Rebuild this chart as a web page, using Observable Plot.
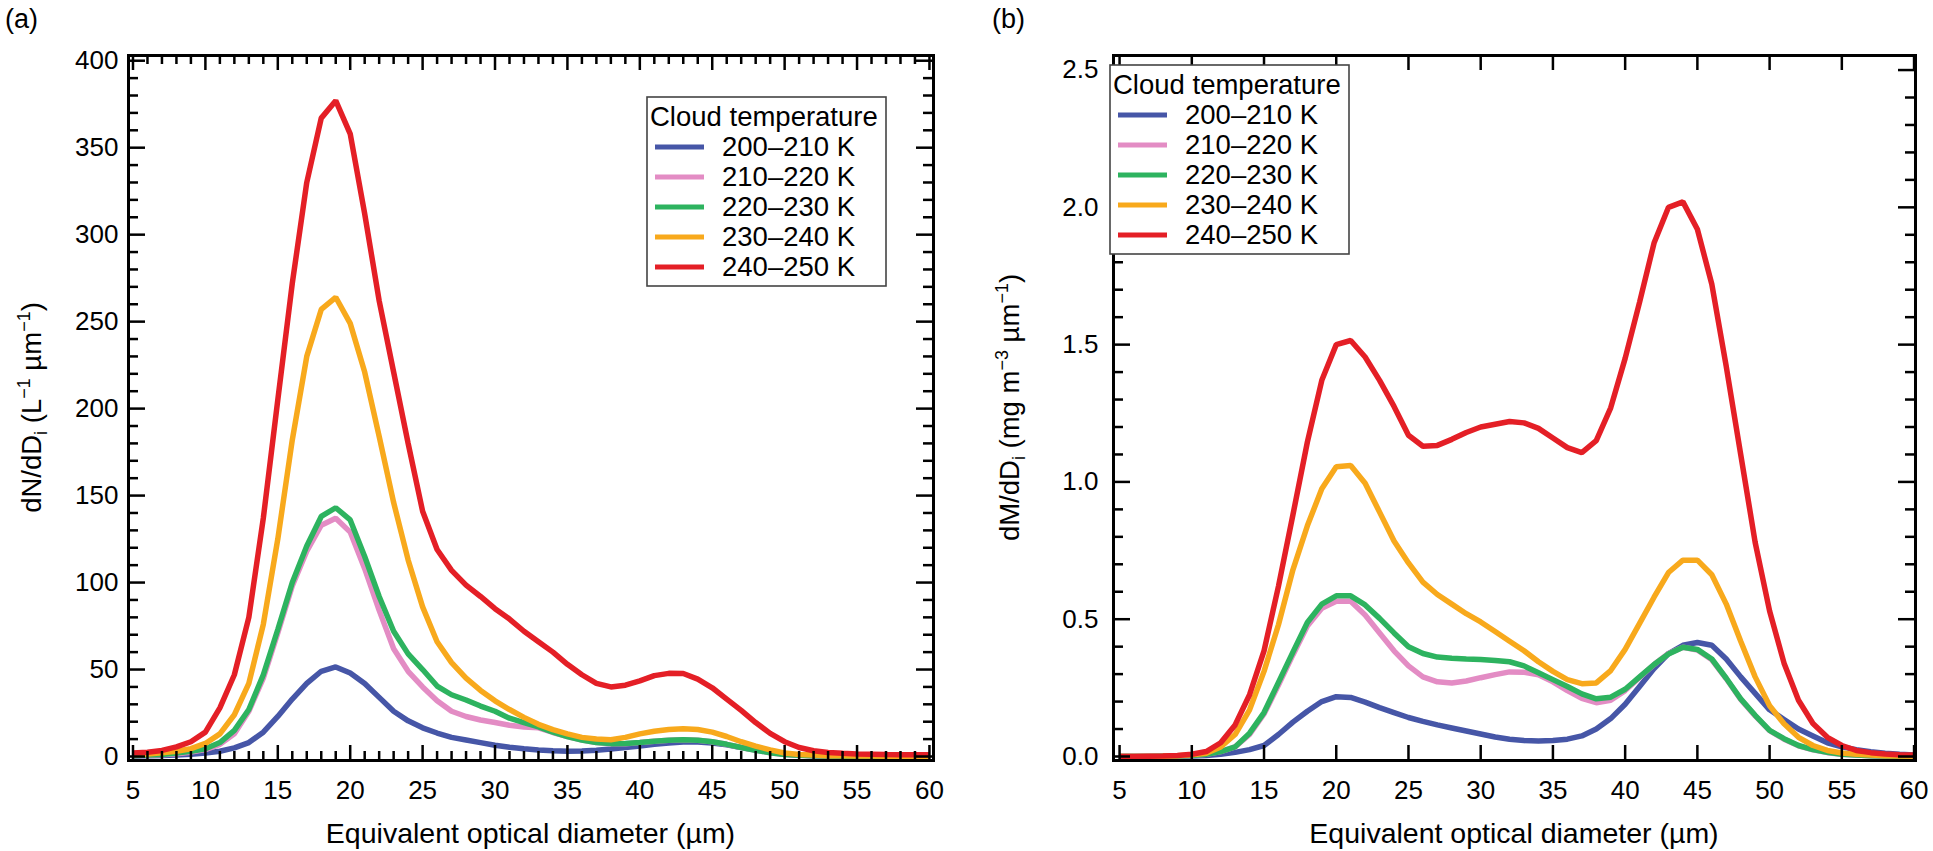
<!DOCTYPE html>
<html>
<head>
<meta charset="utf-8">
<script src="https://cdn.jsdelivr.net/npm/d3@7"></script>
<script src="https://cdn.jsdelivr.net/npm/@observablehq/plot@0.6"></script>
<style>
  body { margin: 0; background: #fff; }
  #fig { position: relative; width: 1933px; height: 851px; background: #fff; }
  #fig svg { position: absolute; top: 0; overflow: visible; }
</style>
</head>
<body>
<div id="fig"></div>
<script>
// ---------- data ----------
const diameter = [5, 6, 7, 8, 9, 10, 11, 12, 13, 14,
  15, 16, 17, 18, 19, 20, 21, 22, 23, 24,
  25, 26, 27, 28, 29, 30, 31, 32, 33, 34,
  35, 36, 37, 38, 39, 40, 41, 42, 43, 44,
  45, 46, 47, 48, 49, 50, 51, 52, 53, 54,
  55, 56, 57, 58, 59, 60];

const tempRanges = ["200–210 K", "210–220 K", "220–230 K", "230–240 K", "240–250 K"];
const tempColors = ["#4656a7", "#e38cc4", "#2db35f", "#f8a91c", "#e41f26"];

// (a) number distribution dN/dDi (L^-1 µm^-1)
const dN_200_210 = [0.3, 0.4, 0.6, 0.9, 1.3, 2, 3, 5, 8, 14,
  23, 33, 42, 49, 51.5, 48, 42, 34, 26, 20.5,
  16.5, 13.5, 11, 9.5, 8, 6.5, 5.3, 4.4, 3.8, 3.3,
  3, 3.2, 3.6, 4.3, 5.1, 6, 7, 7.8, 8.3, 8.4,
  7.8, 6.7, 5.2, 3.8, 2.4, 1.4, 0.8, 0.5, 0.3, 0.2,
  0.2, 0.1, 0.1, 0.1, 0.1, 0.1];
const dN_210_220 = [0.5, 0.7, 1, 1.6, 2.5, 4, 7, 13, 26, 45,
  71, 98, 118, 133, 137, 129, 108, 84, 62, 49,
  40, 32, 26, 23, 21, 19.5, 18, 17, 16.5, 13.8,
  11.5, 9.5, 8, 7.3, 7.3, 8, 8.8, 9.3, 9.6, 9.4,
  8.5, 7, 5.2, 3.6, 2.2, 1.2, 0.7, 0.4, 0.3, 0.2,
  0.2, 0.2, 0.1, 0.1, 0.1, 0.1];
const dN_220_230 = [0.5, 0.8, 1.2, 2, 3, 4.5, 8, 15, 27, 47,
  73, 100, 121, 138, 143, 136, 115, 92, 72, 59,
  50, 40.5, 35.5, 32.5, 29, 26, 22, 19.5, 17, 14,
  11.5, 9.5, 8, 7.4, 7.5, 8, 8.8, 9.3, 9.6, 9.4,
  8.5, 7, 5.2, 3.6, 2.2, 1.2, 0.7, 0.4, 0.3, 0.2,
  0.2, 0.2, 0.1, 0.1, 0.1, 0.1];
const dN_230_240 = [1, 1.5, 2.2, 3, 4.5, 7.5, 13, 24, 42, 76,
  125, 182, 230, 257, 264, 249, 221, 184, 146, 113,
  86, 66, 54, 45, 38, 32, 27, 22.5, 18.5, 15.5,
  13, 11, 10, 9.6, 11, 13, 14.5, 15.5, 16, 15.5,
  14, 11.5, 8.5, 6, 3.8, 2, 1.2, 0.8, 0.5, 0.4,
  0.3, 0.3, 0.2, 0.2, 0.2, 0.2];
const dN_240_250 = [2, 2.5, 3.5, 5.5, 8.5, 14, 28, 47, 80, 137,
  205, 272, 330, 367, 377, 358, 312, 262, 221, 180,
  141, 119, 107, 98.5, 92, 85, 79, 72, 66, 60,
  53, 47, 42, 40, 41, 43.5, 46.5, 47.8, 47.7, 44.5,
  39.5, 33, 26.5, 19.5, 13.3, 8.5, 5.2, 3.3, 2.3, 1.8,
  1.5, 1.3, 1.1, 1, 1, 1];

// (b) mass distribution dM/dDi (mg m^-3 µm^-1)
const dM_200_210 = [0, 0, 0, 0, 0.001, 0.002, 0.004, 0.008, 0.015, 0.025,
  0.04, 0.08, 0.125, 0.165, 0.2, 0.218, 0.215, 0.198, 0.178, 0.16,
  0.142, 0.128, 0.115, 0.104, 0.093, 0.082, 0.071, 0.063, 0.058, 0.056,
  0.058, 0.063, 0.075, 0.1, 0.138, 0.19, 0.255, 0.32, 0.375, 0.405,
  0.415, 0.405, 0.355, 0.29, 0.23, 0.17, 0.135, 0.1, 0.075, 0.05,
  0.035, 0.025, 0.017, 0.012, 0.008, 0.005];
const dM_210_220 = [0, 0, 0, 0.001, 0.002, 0.004, 0.008, 0.018, 0.035, 0.08,
  0.155, 0.26, 0.37, 0.475, 0.54, 0.565, 0.565, 0.515, 0.45, 0.385,
  0.33, 0.29, 0.272, 0.268, 0.275, 0.287, 0.298, 0.308, 0.307, 0.298,
  0.272, 0.24, 0.212, 0.196, 0.205, 0.24, 0.288, 0.335, 0.375, 0.398,
  0.388, 0.352, 0.283, 0.208, 0.148, 0.094, 0.063, 0.039, 0.024, 0.014,
  0.008, 0.005, 0.003, 0.002, 0.001, 0.001];
const dM_220_230 = [0, 0, 0, 0.001, 0.002, 0.004, 0.008, 0.018, 0.035, 0.085,
  0.16, 0.27, 0.38, 0.488, 0.555, 0.585, 0.585, 0.552, 0.503, 0.45,
  0.4, 0.375, 0.362, 0.358, 0.355, 0.353, 0.35, 0.345, 0.33, 0.305,
  0.28, 0.255, 0.228, 0.21, 0.216, 0.245, 0.29, 0.335, 0.373, 0.398,
  0.39, 0.355, 0.285, 0.21, 0.15, 0.095, 0.065, 0.04, 0.025, 0.015,
  0.008, 0.005, 0.003, 0.002, 0.001, 0.001];
const dM_230_240 = [0, 0, 0, 0.001, 0.003, 0.006, 0.012, 0.035, 0.08, 0.17,
  0.31, 0.48, 0.68, 0.84, 0.975, 1.055, 1.06, 0.995, 0.89, 0.785,
  0.705, 0.635, 0.59, 0.555, 0.52, 0.49, 0.455, 0.42, 0.385, 0.345,
  0.31, 0.28, 0.265, 0.268, 0.313, 0.39, 0.485, 0.58, 0.67, 0.715,
  0.715, 0.662, 0.555, 0.42, 0.29, 0.185, 0.119, 0.07, 0.04, 0.022,
  0.013, 0.008, 0.005, 0.003, 0.002, 0.001];
const dM_240_250 = [0, 0, 0.001, 0.002, 0.004, 0.008, 0.018, 0.05, 0.115, 0.225,
  0.385, 0.62, 0.88, 1.145, 1.37, 1.5, 1.515, 1.455, 1.37, 1.275,
  1.17, 1.13, 1.133, 1.155, 1.18, 1.2, 1.21, 1.22, 1.215, 1.195,
  1.16, 1.125, 1.107, 1.15, 1.27, 1.45, 1.655, 1.87, 2.0, 2.02,
  1.92, 1.72, 1.42, 1.1, 0.78, 0.53, 0.34, 0.205, 0.12, 0.07,
  0.04, 0.022, 0.014, 0.009, 0.006, 0.005];

// tick labels
const xTickValues = [5, 10, 15, 20, 25, 30, 35, 40, 45, 50, 55, 60];
const dNTickValues = [0, 50, 100, 150, 200, 250, 300, 350, 400];
const dMTickValues = [0, 0.5, 1.0, 1.5, 2.0, 2.5];

const xTitle = "Equivalent optical diameter (µm)";
const legendTitle = "Cloud temperature";

// ---------- drawing ----------
const FONT = "'Liberation Sans', Arial, Helvetica, sans-serif";
const H = 851;

function makePanel(o) {
  const fw = o.width - o.ml - o.mr, fh = H - o.mt - o.mb;
  const rows = o.series.flatMap((vals, i) => vals.map((v, j) => ({d: diameter[j], v, s: tempRanges[i]})));
  const tk = {stroke: "black", strokeWidth: 2.5};
  const marks = [
    Plot.line(rows, {x: "d", y: "v", z: "s", stroke: "s", strokeWidth: 5.5, strokeLinejoin: "miter", strokeLinecap: "butt"}),
    Plot.tickX(xTickValues, {x: d => d, insetTop: fh - 15, ...tk}),
    Plot.tickX(xTickValues, {x: d => d, insetBottom: fh - 15, ...tk}),
    Plot.tickY(o.yMajor, {y: d => d, insetRight: fw - 17, ...tk}),
    Plot.tickY(o.yMajor, {y: d => d, insetLeft: fw - 17, ...tk}),
    Plot.tickY(o.yMinor, {y: d => d, insetRight: fw - 10, ...tk}),
    Plot.tickY(o.yMinor, {y: d => d, insetLeft: fw - 10, ...tk})
  ];
  if (o.xMinor.length) {
    marks.push(Plot.tickX(o.xMinor, {x: d => d, insetTop: fh - 9, ...tk}));
    marks.push(Plot.tickX(o.xMinor, {x: d => d, insetBottom: fh - 9, ...tk}));
  }
  marks.push(
    Plot.frame({stroke: "black", strokeWidth: 3}),
    Plot.axisX({ticks: xTickValues, anchor: "bottom", tickSize: 0, tickPadding: 20, fontSize: 26, label: null, tickFormat: d => String(d)}),
    Plot.axisY({ticks: o.yMajor, anchor: "left", tickSize: 0, tickPadding: o.yPad, fontSize: 26, label: null, tickFormat: o.yFmt})
  );
  const svgEl = Plot.plot({
    width: o.width, height: H,
    marginLeft: o.ml, marginRight: o.mr, marginTop: o.mt, marginBottom: o.mb,
    x: {domain: o.xDomain, label: null},
    y: {domain: o.yDomain, label: null},
    color: {domain: tempRanges, range: tempColors},
    style: {fontFamily: FONT, fontSize: "26px", color: "black", background: "transparent"},
    marks
  });
  svgEl.style.left = o.left + "px";
  const svg = d3.select(svgEl);

  // panel letter
  svg.append("text").attr("x", o.letterX).attr("y", 28).attr("text-anchor", "start")
    .attr("font-family", FONT).attr("font-size", 27).attr("fill", "black").text(o.letter);

  // x title
  svg.append("text").attr("x", o.ml + fw / 2).attr("y", 843).attr("text-anchor", "middle")
    .attr("font-family", FONT).attr("font-size", 28.5).attr("fill", "black").text(xTitle);

  // y title with sub/superscripts
  const yt = svg.append("text")
    .attr("transform", `translate(${o.yTitleX},${o.mt + fh / 2}) rotate(-90)`)
    .attr("text-anchor", "middle").attr("font-family", FONT).attr("font-size", 27.5).attr("fill", "black");
  let shift = 0;
  for (const p of o.yTitle) {
    const target = p.sub ? 6 : p.sup ? -11 : 0;
    const ts = yt.append("tspan").attr("dy", target - shift).text(p.t);
    if (p.sub || p.sup) ts.attr("font-size", 18);
    shift = target;
  }

  // legend
  const g = svg.append("g").attr("font-family", FONT).attr("font-size", 27.5)
    .attr("fill", "black").attr("text-anchor", "start");
  g.append("rect").attr("x", o.legX).attr("y", o.legY).attr("width", 239).attr("height", 189)
    .attr("fill", "white").attr("stroke", "#444").attr("stroke-width", 1.6);
  g.append("text").attr("x", o.legX + 3).attr("y", o.legY + 29).text(legendTitle);
  tempRanges.forEach((t, i) => {
    const cy = o.legY + 50 + 30 * i;
    g.append("line").attr("x1", o.legX + 8).attr("x2", o.legX + 57).attr("y1", cy).attr("y2", cy)
      .attr("stroke", tempColors[i]).attr("stroke-width", 5);
    g.append("text").attr("x", o.legX + 75).attr("y", cy + 9).text(t);
  });
  return svgEl;
}

const fig = document.getElementById("fig");

fig.appendChild(makePanel({
  left: 0, width: 966, ml: 128, mr: 33, mt: 55, mb: 91,
  xDomain: [4.69, 60.28], yDomain: [-2.3, 403],
  series: [dN_200_210, dN_210_220, dN_220_230, dN_230_240, dN_240_250],
  yMajor: dNTickValues,
  yMinor: d3.range(0, 401, 10).filter(d => d % 50 !== 0),
  xMinor: d3.range(5, 61).filter(d => d % 5 !== 0),
  yFmt: d => String(d), yPad: 10,
  letter: "(a)", letterX: 5,
  yTitleX: 41,
  yTitle: [{t: "dN/dD"}, {t: "i", sub: true}, {t: " (L"}, {t: "−1", sup: true}, {t: " µm"}, {t: "−1", sup: true}, {t: ")"}],
  legX: 647, legY: 97
}));

fig.appendChild(makePanel({
  left: 966, width: 967, ml: 147, mr: 18, mt: 55, mb: 91,
  xDomain: [4.58, 60.1], yDomain: [-0.0146, 2.553],
  series: [dM_200_210, dM_210_220, dM_220_230, dM_230_240, dM_240_250],
  yMajor: dMTickValues,
  yMinor: d3.range(0, 26).filter(d => d % 5 !== 0).map(d => d / 10),
  xMinor: [],
  yFmt: d3.format(".1f"), yPad: 15,
  letter: "(b)", letterX: 26,
  yTitleX: 53,
  yTitle: [{t: "dM/dD"}, {t: "i", sub: true}, {t: " (mg m"}, {t: "−3", sup: true}, {t: " µm"}, {t: "−1", sup: true}, {t: ")"}],
  legX: 144, legY: 65
}));
</script>
</body>
</html>
